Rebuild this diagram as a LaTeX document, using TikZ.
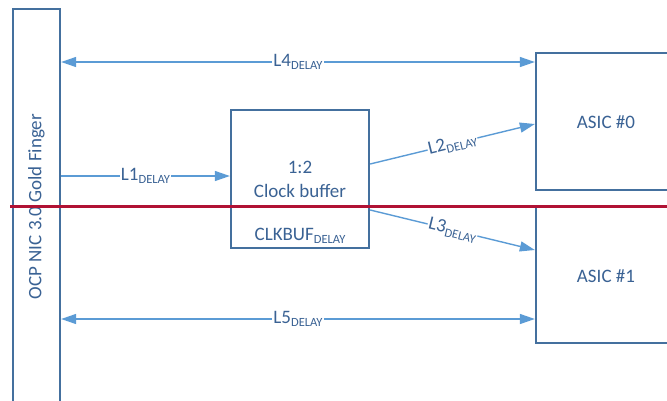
\documentclass[tikz,border=0pt]{standalone}
\usepackage{fontspec}
\setmainfont{Carlito}
\usetikzlibrary{arrows.meta,calc}
\definecolor{boxblue}{RGB}{68,112,158}
\definecolor{txtblue}{RGB}{58,98,148}
\definecolor{arrblue}{RGB}{91,155,213}
\definecolor{redline}{RGB}{176,18,52}
\newcommand\dly[1]{#1{\fontsize{12.5}{13}\selectfont\raisebox{-3.5pt}{DELAY}}}
\tikzset{
  blk/.style={draw=boxblue, line width=2.3pt, fill=white, inner sep=0pt},
  txt/.style={text=txtblue, font=\fontsize{19}{22}\selectfont, inner sep=1pt},
  conn/.style={draw=arrblue, line width=1.4pt, -{Triangle[length=15pt,width=10pt]}},
  conn2/.style={draw=arrblue, line width=1.4pt, {Triangle[length=15pt,width=10pt]}-{Triangle[length=15pt,width=10pt]}},
  lbl/.style={txt, fill=white, inner sep=1pt, midway}
}
\begin{document}
\begin{tikzpicture}[x=1pt,y=-1pt]
\useasboundingbox (0,0) rectangle (667,400);
\clip (0,0) rectangle (667,400);
% blocks
\node[blk, minimum width=47pt, minimum height=422pt] (gf) at (36.5,220) {};
\node[txt, rotate=90] (gft) at (36.5,206.5) {OCP NIC 3.0 Gold Finger};
\node[blk, minimum width=138pt, minimum height=138pt] (cb) at (300,179) {};
\node[txt] (cb1) at (300,167) {1:2};
\node[txt] (cb2) at (300,191) {Clock buffer};
\node[txt] (cb3) at (300,236) {\dly{CLKBUF}};
\node[blk, minimum width=140pt, minimum height=137pt] (a0) at (606,121.5) {};
\node[txt] (a0t) at (606,122) {ASIC \#0};
\node[blk, minimum width=140pt, minimum height=136pt] (a1) at (606,275) {};
\node[txt] (a1t) at (606,276) {ASIC \#1};
% reference heights
\coordinate (y4) at (0,62);
\coordinate (y1) at (0,176);
\coordinate (y2s) at (0,164);
\coordinate (y2e) at (0,124);
\coordinate (y3s) at (0,210);
\coordinate (y3e) at (0,250);
\coordinate (y5) at (0,319);
% connectors
\draw[conn2] (gf.east |- y4) -- node[lbl] {\dly{L4}} (a0.west |- y4);
\draw[conn] (gf.east |- y1) -- node[lbl] {\dly{L1}} (cb.west |- y1);
\draw[conn] (cb.east |- y2s) -- node[lbl, sloped] {\dly{L2}} (a0.west |- y2e);
\draw[conn] (cb.east |- y3s) -- node[lbl, sloped] {\dly{L3}} (a1.west |- y3e);
\draw[conn2] (gf.east |- y5) -- node[lbl] {\dly{L5}} (a1.west |- y5);
% red divider
\coordinate (rl) at (10,206);
\coordinate (rr) at (667,206);
\draw[redline, line width=3pt] (rl) -- (rr);
\end{tikzpicture}
\end{document}
